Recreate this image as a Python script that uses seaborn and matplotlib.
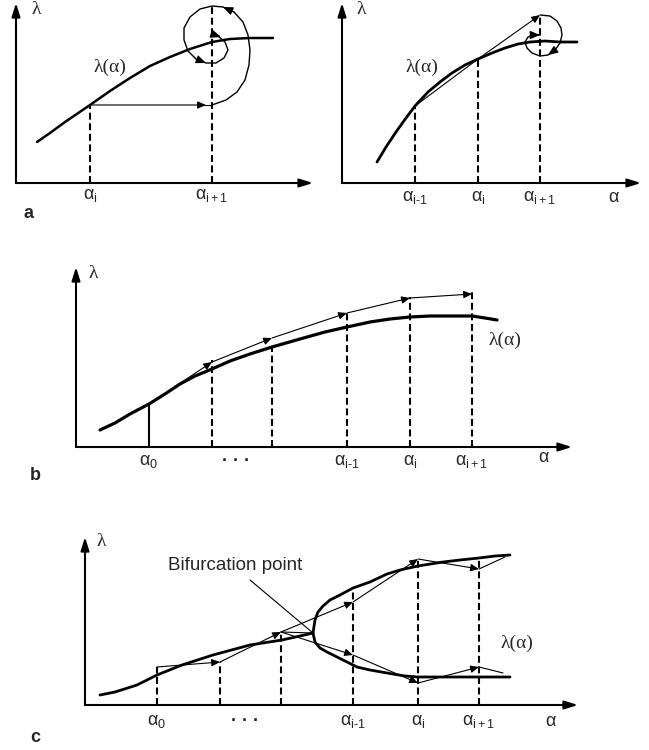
import seaborn as sns
import matplotlib.pyplot as plt

# ---- values (panel units: alpha to the right, lambda up) ----

# panel a, left: one big step, then a spiral around the solution point
a1_curve_alpha = [21, 34, 49, 74, 94, 114, 134, 154, 174, 196, 214, 234, 257]
a1_curve_lam = [41, 50, 61, 78, 92, 105, 117, 126, 134, 141, 144, 145, 145]
a1_nodes = [74, 196]
a1_node_labels = [r"$α_i$", r"$α_{i+1}$"]
a1_dash_top = [78, 177]
a1_spiral_alpha = [196, 210, 221, 229, 233, 234, 232, 227, 218, 207, 196, 184, 174,
                   168, 168, 172, 180, 190, 200, 208, 212, 209, 202, 196]
a1_spiral_lam = [78, 83, 91, 103, 118, 133, 148, 161, 171, 176, 177, 174, 166,
                 155, 143, 132, 124, 120, 120, 125, 133, 141, 147, 149]

# panel a, right: secant predictor then a small spiral
a2_curve_alpha = [35, 44, 54, 64, 73, 86, 98, 110, 123, 136, 150, 163, 176, 188, 203, 218, 235]
a2_curve_lam = [21, 36, 51, 65, 77, 91, 101, 110, 118, 124, 130, 135, 139, 141, 142, 141, 141]
a2_nodes = [73, 136, 198]
a2_node_labels = [r"$α_{i\text{-}1}$", r"$α_i$", r"$α_{i+1}$"]
a2_dash_top = [77, 124, 168]
a2_spiral_alpha = [198, 208, 215, 219, 220, 218, 213, 206, 198, 190, 185, 183, 186, 192, 198]
a2_spiral_lam = [168, 167, 162, 155, 148, 140, 133, 128, 127, 130, 135, 141, 146, 148, 148]

# panel b: predictor polyline drifting above the curve
b_curve_alpha = [24, 39, 54, 73, 89, 104, 119, 136, 154, 174, 196, 224, 249, 271,
                 294, 314, 334, 354, 374, 396, 409, 421]
b_curve_lam = [17, 24, 33, 43, 53, 63, 71, 78, 86, 93, 100, 108, 115, 120,
               125, 128, 130, 131, 131, 131, 129, 127]
b_nodes = [73, 136, 196, 271, 334, 396]
b_pred_lam = [43, 85, 109, 134, 149, 153]
b_dash_top = [43, 87, 100, 135, 150, 156]
b_labels = [(73, r"$α_0$"), (271, r"$α_{i\text{-}1}$"), (334, r"$α_i$"), (396, r"$α_{i+1}$")]

# panel c: bifurcation
c_curve_alpha = [15, 30, 52, 72, 97, 128, 165, 197, 215, 228]
c_curve_lam = [10, 13, 20, 30, 40, 50, 60, 65, 69, 72]
c_up_alpha = [228, 230, 233, 238, 245, 255, 268, 285, 302, 315, 333, 358, 375, 394, 410, 425]
c_up_lam = [72, 85, 93, 99, 105, 110, 117, 123, 131, 135, 139, 143, 145, 147, 149, 150]
c_low_alpha = [228, 230, 235, 242, 258, 272, 285, 302, 320, 333, 365, 394, 425]
c_low_lam = [72, 63, 57, 53, 45, 38, 35, 32, 29, 28, 28, 28, 28]
c_nodes = [72, 135, 196, 268, 333, 394]
c_dash_top = [38, 43, 73, 117, 146, 147]
c_pred_start_alpha = [72, 135, 196]
c_pred_start_lam = [38, 43, 73]
c_pred_up_alpha = [196, 268, 333, 394, 420]
c_pred_up_lam = [73, 103, 146, 136, 148]
c_pred_low_alpha = [196, 268, 333, 394, 418]
c_pred_low_lam = [73, 50, 22, 38, 32]
c_labels = [(72, r"$α_0$"), (268, r"$α_{i\text{-}1}$"), (333, r"$α_i$"), (394, r"$α_{i+1}$")]

# ---- style ----
sns.set_theme(style="white")
plt.rcParams["font.family"] = ["Liberation Sans", "DejaVu Sans"]
plt.rcParams["mathtext.fontset"] = "custom"
plt.rcParams["mathtext.rm"] = "Liberation Sans"
plt.rcParams["mathtext.it"] = "Liberation Sans"
plt.rcParams["mathtext.default"] = "regular"
plt.rcParams["lines.scale_dashes"] = False

W, H = 649, 750
fig = plt.figure(figsize=(W / 100, H / 100), dpi=100)
fig.patch.set_facecolor("white")

DASH = (0, (5, 2.6))
SERIF = ["Liberation Serif", "DejaVu Serif"]


def panel(x0, y0, x1, y1, ox, oy):
    # axes over a pixel box, 1 data unit = 1 pixel, origin at (ox, oy)
    ax = fig.add_axes([x0 / W, 1 - y1 / H, (x1 - x0) / W, (y1 - y0) / H])
    ax.set_xlim(x0 - ox, x1 - ox)
    ax.set_ylim(oy - y1, oy - y0)
    ax.axis("off")
    return ax


def arrow(ax, p, q, lw=0.8, hl=0.5, hw=0.22, ms=10):
    ax.annotate("", xy=q, xytext=p,
                arrowprops=dict(arrowstyle=f"-|>,head_length={hl},head_width={hw}",
                                lw=lw, color="black", shrinkA=0, shrinkB=0,
                                mutation_scale=ms))


def frame(ax, xtip, ytip):
    arrow(ax, (0, 0), (xtip, 0), lw=1.5, hl=0.8, hw=0.25)
    arrow(ax, (0, 0), (0, ytip), lw=1.5, hl=0.8, hw=0.25)


def curve(ax, xs, ys, lw=2.0):
    sns.lineplot(x=xs, y=ys, sort=False, estimator=None, color="black",
                 linewidth=lw, ax=ax, legend=False)
    ax.lines[-1].set_solid_joinstyle("round")
    ax.lines[-1].set_solid_capstyle("round")


def dashes(ax, xs, tops, solid_first=False):
    for k, (x, t) in enumerate(zip(xs, tops)):
        ls = "-" if (solid_first and k == 0) else DASH
        ax.plot([x, x], [0, t], color="black", lw=1.5, ls=ls)


def chain(ax, xs, ys, last_head=True):
    for k in range(len(xs) - 1):
        p, q = (xs[k], ys[k]), (xs[k + 1], ys[k + 1])
        if k == len(xs) - 2 and not last_head:
            ax.plot([p[0], q[0]], [p[1], q[1]], color="black", lw=0.8)
        else:
            arrow(ax, p, q)


def head(ax, xs, ys, i):
    arrow(ax, (xs[i - 1], ys[i - 1]), (xs[i], ys[i]), lw=0.8, hl=0.6, hw=0.25)


def alabels(ax, items, y):
    for x, s in items:
        ax.text(x, y, s, fontsize=13, ha="center", va="center")


def lam_axis(ax, x, y):
    ax.text(x, y, "λ", family=SERIF, fontsize=14, ha="center", va="center")


def lam_curve(ax, x, y):
    ax.text(x, y, "λ(α)", family=SERIF, fontsize=14, ha="center", va="center")


# ---------------- panel a, left ----------------
ax = panel(0, 0, 320, 225, 16, 183)
frame(ax, 297, 180)
curve(ax, a1_curve_alpha, a1_curve_lam, lw=1.8)
dashes(ax, a1_nodes, a1_dash_top)
arrow(ax, (a1_nodes[0], a1_curve_lam[3]), (a1_nodes[1] - 6, a1_curve_lam[3]))
ax.plot([a1_nodes[1] - 8, a1_nodes[1]], [a1_curve_lam[3]] * 2, color="black", lw=0.8)
ax.plot(a1_spiral_alpha, a1_spiral_lam, color="black", lw=1.0)
head(ax, a1_spiral_alpha, a1_spiral_lam, 9)
head(ax, a1_spiral_alpha, a1_spiral_lam, 17)
arrow(ax, (a1_spiral_alpha[-1], a1_spiral_lam[-1]), (a1_spiral_alpha[-1] + 9, a1_spiral_lam[-1] - 3),
      lw=1.0, hl=0.6, hw=0.25)
lam_axis(ax, 20, 173)
lam_curve(ax, 94, 116)
alabels(ax, list(zip(a1_nodes, a1_node_labels)), -13)
ax.text(12, -30, "a", fontsize=13, fontweight="bold", ha="center", va="center")

# ---------------- panel a, right ----------------
ax = panel(325, 0, 649, 225, 342, 183)
frame(ax, 299, 180)
curve(ax, a2_curve_alpha, a2_curve_lam, lw=2.0)
dashes(ax, a2_nodes, a2_dash_top)
ax.plot([a2_nodes[0], a2_nodes[1]], [a2_dash_top[0], a2_dash_top[1]], color="black", lw=0.8)
arrow(ax, (a2_nodes[1], a2_dash_top[1]), (a2_spiral_alpha[0], a2_spiral_lam[0]))
ax.plot(a2_spiral_alpha, a2_spiral_lam, color="black", lw=1.0)
head(ax, a2_spiral_alpha, a2_spiral_lam, 7)
head(ax, a2_spiral_alpha, a2_spiral_lam, len(a2_spiral_alpha) - 1)
lam_axis(ax, 19, 173)
lam_curve(ax, 80, 116)
alabels(ax, list(zip(a2_nodes, a2_node_labels)), -14)
ax.text(271, -14, "α", fontsize=13, ha="center", va="center")

# ---------------- panel b ----------------
ax = panel(0, 240, 649, 490, 76, 447)
frame(ax, 496, 180)
curve(ax, b_curve_alpha, b_curve_lam, lw=2.3)
dashes(ax, b_nodes, b_dash_top, solid_first=True)
chain(ax, b_nodes, b_pred_lam)
lam_axis(ax, 17, 174)
lam_curve(ax, 429, 107)
alabels(ax, b_labels, -14)
ax.text(160, -14, "· · ·", fontsize=13, fontweight="bold", ha="center", va="center")
ax.text(467, -11, "α", fontsize=13, ha="center", va="center")
ax.text(-41, -28, "b", fontsize=13, fontweight="bold", ha="center", va="center")

# ---------------- panel c ----------------
ax = panel(0, 500, 649, 750, 85, 705)
frame(ax, 493, 168)
curve(ax, c_curve_alpha, c_curve_lam, lw=2.0)
curve(ax, c_up_alpha, c_up_lam, lw=2.0)
curve(ax, c_low_alpha, c_low_lam, lw=2.0)
dashes(ax, c_nodes, c_dash_top)
chain(ax, c_pred_start_alpha, c_pred_start_lam)
chain(ax, c_pred_up_alpha, c_pred_up_lam, last_head=False)
chain(ax, c_pred_low_alpha, c_pred_low_lam, last_head=False)
ax.plot([c_nodes[2], c_curve_alpha[-1]], [c_dash_top[2], c_curve_lam[-1]], color="black", lw=0.8)
ax.plot([165, c_curve_alpha[-1]], [125, c_curve_lam[-1]], color="black", lw=0.8)
ax.text(150, 140, "Bifurcation point", fontsize=13.5, ha="center", va="center")
lam_axis(ax, 16, 163)
lam_curve(ax, 432, 62)
alabels(ax, c_labels, -17)
ax.text(160, -17, "· · ·", fontsize=13, fontweight="bold", ha="center", va="center")
ax.text(465, -17, "α", fontsize=13, ha="center", va="center")
ax.text(-50, -33, "c", fontsize=13, fontweight="bold", ha="center", va="center")

fig.savefig("out.png", dpi=100, facecolor="white")
